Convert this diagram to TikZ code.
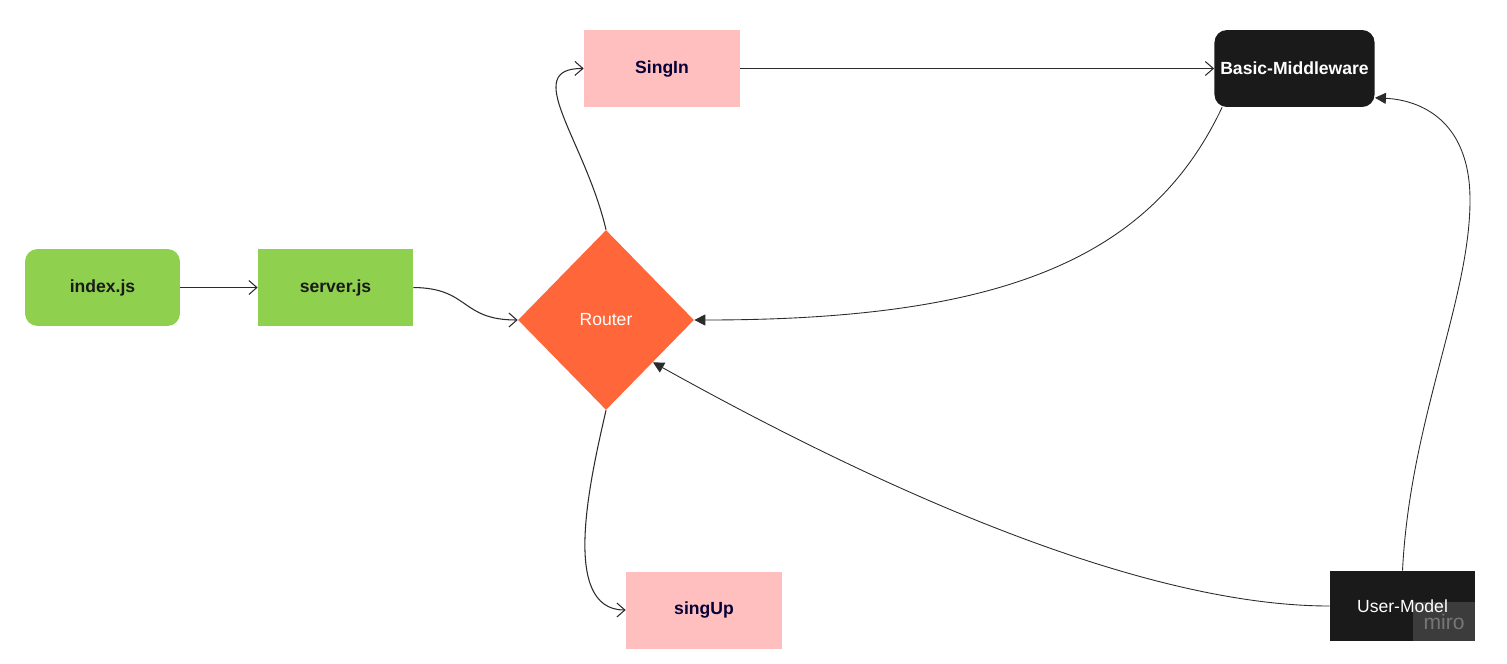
\documentclass[tikz,border=0pt]{standalone}
\usepackage{fontspec}
\setmainfont{Liberation Sans}
\usetikzlibrary{arrows.meta,shapes.geometric}
\definecolor{jsgreen}{HTML}{8FD14F}
\definecolor{routerorange}{HTML}{FF673B}
\definecolor{authpink}{HTML}{FFBFBF}
\definecolor{darkbox}{HTML}{1A1A1A}
\definecolor{navytext}{HTML}{050038}
\definecolor{wire}{HTML}{2B2B2B}

\begin{document}
\begin{tikzpicture}[x=0.02cm,y=-0.02cm,
	file/.style={fill=jsgreen,minimum width=3.1cm,minimum height=1.54cm,font=\bfseries,text=darkbox},
	auth/.style={fill=authpink,minimum width=3.12cm,minimum height=1.54cm,font=\bfseries,text=navytext},
	dark/.style={fill=darkbox,text=white,minimum height=1.54cm},
	wireopen/.style={draw=wire,line width=0.6pt,-{Straight Barb[length=1.6mm,width=2.8mm]}},
	wirefill/.style={draw=wire,line width=0.5pt,-{Triangle[length=2.2mm,width=2.2mm]}}]
		\useasboundingbox (0,0) rectangle (1507,663);
		\node [file,rounded corners=2.5mm] (index) at (102.5,287.5) {index.js};
		\node [file] (server) at (335.5,287.5) {server.js};
		\node [diamond,fill=routerorange,text=white,inner sep=0pt,minimum width=3.52cm,minimum height=3.6cm] (router) at (606,320) {Router};
		\node [auth] (signin) at (662,68.5) {SingIn};
		\node [auth] (signup) at (704,610) {singUp};
		\node [dark,rounded corners=2.5mm,minimum width=3.1cm,font=\bfseries] (middleware) at (1294.5,68.5) {Basic-Middleware};
		\node [dark,minimum width=2.9cm,minimum height=1.4cm] (usermodel) at (1402.5,606) {User-Model};
		\node [fill=white,fill opacity=0.15,text opacity=0.3,text=white,minimum width=1.24cm,minimum height=0.78cm,font=\large,anchor=south east] (miro) at (usermodel.south east) {miro};

		\draw [wireopen] (index) -- (server);
		\draw [wireopen] (server.east) .. controls (470,288) and (460,320) .. (router.west);
		\draw [wireopen] (router.north) .. controls (585,140) and (520,68) .. (signin.west);
		\draw [wireopen] (signin) -- (middleware);
		\draw [wireopen] (router.south) .. controls (590,480) and (560,610) .. (signup.west);
		\draw [wirefill] (middleware.south west) ++(8,0) .. controls (1150,260) and (1000,320) .. (router.east);
		\draw [wirefill] (usermodel.west) .. controls (1150,606) and (900,500) .. (router.-42);
		\draw [wirefill] (usermodel.north) .. controls (1410,420) and (1470,300) .. (1470,200) .. controls (1470,120) and (1420,100) .. (middleware.-20);
\end{tikzpicture}
\end{document}
